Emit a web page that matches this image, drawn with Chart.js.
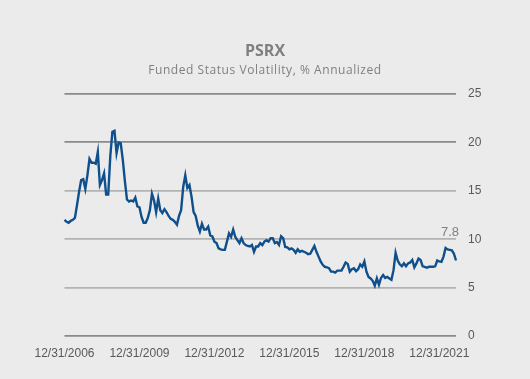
<!DOCTYPE html>
<html>
<head>
<meta charset="utf-8">
<script src="https://cdn.jsdelivr.net/npm/chart.js@4.4.1/dist/chart.umd.min.js"></script>
<style>
  html, body { margin: 0; padding: 0; background: #ebebeb; }
  #wrap { width: 530px; height: 379px; position: relative; }
</style>
</head>
<body>
<div id="wrap"><canvas id="c" width="530" height="379"></canvas></div>
<script>
// ---- data ----
const titleText = 'PSRX';
const subtitleText = 'Funded Status Volatility, % Annualized';
const startYear = 2006, startMonth = 12; // first observation 12/31/2006
const tickLabels = ['12/31/2006', '12/31/2009', '12/31/2012', '12/31/2015', '12/31/2018', '12/31/2021'];
const tickEvery = 36;
const yTicks = [0, 5, 10, 15, 20, 25];
const volatility = [
  12.0, 11.8, 11.7, 11.9, 12.0, 12.2, 13.5, 14.9, 16.1, 16.2, 15.2, 16.6,
  18.3, 17.9, 17.9, 17.8, 19.0, 15.6, 16.1, 16.8, 14.6, 14.6, 18.6, 21.1,
  21.2, 18.9, 20.0, 19.9, 18.2, 16.0, 14.1, 13.9, 14.0, 13.9, 14.3,
  13.4, 13.3, 12.3, 11.7, 11.7, 12.2, 13.0, 14.7, 14.0, 12.8, 14.2, 13.0,
  12.7, 13.1, 12.8, 12.4, 12.1, 12.0, 11.8, 11.5, 12.4, 13.0, 15.4, 16.6,
  15.3, 15.6, 14.4, 12.8, 12.4, 11.4, 10.8, 11.6, 11.0, 11.0, 11.3, 10.4,
  10.3, 9.75, 9.6, 9.05, 8.95, 8.9, 8.9, 9.75, 10.6, 10.25, 11.0,
  10.25, 9.9, 9.6, 10.1, 9.6, 9.4, 9.3, 9.25, 9.4, 8.7, 9.25, 9.25,
  9.6, 9.4, 9.75, 9.9, 9.75, 10.1, 10.1, 9.6, 9.7, 9.4, 10.3, 10.1,
  9.2, 9.15, 8.95, 9.05, 8.9, 8.6, 8.95, 8.7, 8.8, 8.7, 8.6, 8.45,
  8.5, 8.9, 9.3, 8.7, 8.2, 7.7, 7.35, 7.15, 7.1, 7.0, 6.65, 6.65,
  6.55, 6.75, 6.75, 6.75, 7.15, 7.6, 7.45, 6.65, 6.9, 7.0, 6.7,
  6.9, 7.4, 7.15, 7.7, 6.65, 6.1, 5.95, 5.7, 5.2, 5.95, 5.3, 6.0,
  6.3, 6.0, 6.1, 5.95, 5.8, 6.8, 8.6, 7.8, 7.4, 7.2, 7.5, 7.2,
  7.5, 7.6, 7.85, 7.1, 7.5, 8.0, 7.85, 7.2, 7.15, 7.05, 7.15, 7.15,
  7.15, 7.2, 7.8, 7.7, 7.65, 8.2, 9.1, 8.95, 8.9, 8.85, 8.5, 7.8
];

// month-end category labels
const categories = volatility.map((_, i) => {
  const mIdx = (startMonth - 1) + i;
  const y = startYear + Math.floor(mIdx / 12);
  const m = (mIdx % 12) + 1;
  const d = new Date(y, m, 0).getDate();
  return m + '/' + d + '/' + y;
});

const headings = {
  id: 'headings',
  afterDraw(chart) {
    const {ctx, width} = chart;
    ctx.save();
    ctx.textAlign = 'center';
    ctx.textBaseline = 'middle';
    ctx.fillStyle = '#7f7f7f';
    ctx.font = 'bold 16px "Open Sans", sans-serif';
    ctx.fillText(titleText, width / 2, 51);
    ctx.fillStyle = '#808080';
    ctx.font = '12px "Open Sans", sans-serif';
    if ('letterSpacing' in ctx) ctx.letterSpacing = '0.55px';
    ctx.fillText(subtitleText, width / 2, 71);
    ctx.restore();
  }
};

const lastLabel = {
  id: 'lastLabel',
  afterDatasetsDraw(chart) {
    const {ctx, chartArea, scales} = chart;
    const v = volatility[volatility.length - 1];
    ctx.save();
    ctx.font = '13px "Liberation Sans", sans-serif';
    ctx.fillStyle = '#808080';
    ctx.textAlign = 'right';
    ctx.textBaseline = 'middle';
    ctx.fillText(v.toFixed(1), chartArea.right + 3, scales.y.getPixelForValue(10) - 7);
    ctx.restore();
  }
};

new Chart(document.getElementById('c'), {
  type: 'line',
  data: {
    labels: categories,
    datasets: [{
      data: volatility,
      borderColor: '#0f4f8c',
      borderWidth: 2.4,
      pointRadius: 0,
      tension: 0,
      fill: false
    }]
  },
  options: {
    responsive: false,
    animation: false,
    events: [],
    layout: { padding: { left: 64.5, right: 0, top: 94, bottom: 0 } },
    plugins: {
      legend: { display: false },
      tooltip: { enabled: false },
      title: { display: false },
      subtitle: { display: false }
    },
    scales: {
      x: {
        type: 'category',
        offset: false,
        grid: { display: false },
        border: { display: false },
        afterFit(s) { s.height = 43; },
        ticks: {
          autoSkip: false,
          maxRotation: 0,
          padding: 2,
          color: '#595959',
          font: { family: '"Liberation Sans", sans-serif', size: 12 },
          callback(val, idx) {
            return idx % tickEvery === 0 ? tickLabels[idx / tickEvery] : null;
          }
        }
      },
      y: {
        position: 'right',
        min: 0,
        max: 25,
        afterFit(s) { s.width = 74; },
        afterBuildTicks(s) { s.ticks = yTicks.map(v => ({ value: v })); },
        border: { display: false },
        grid: {
          drawTicks: false,
          lineWidth: 1.8,
          color(ctx) {
            const v = ctx.tick && ctx.tick.value;
            return (v === 25 || v === 20 || v === 0) ? '#8a8a8a' : '#b3b3b3';
          }
        },
        ticks: {
          padding: 12,
          color: '#595959',
          font: { family: '"Liberation Sans", sans-serif', size: 12 }
        }
      }
    }
  },
  plugins: [headings, lastLabel]
});
</script>
</body>
</html>
